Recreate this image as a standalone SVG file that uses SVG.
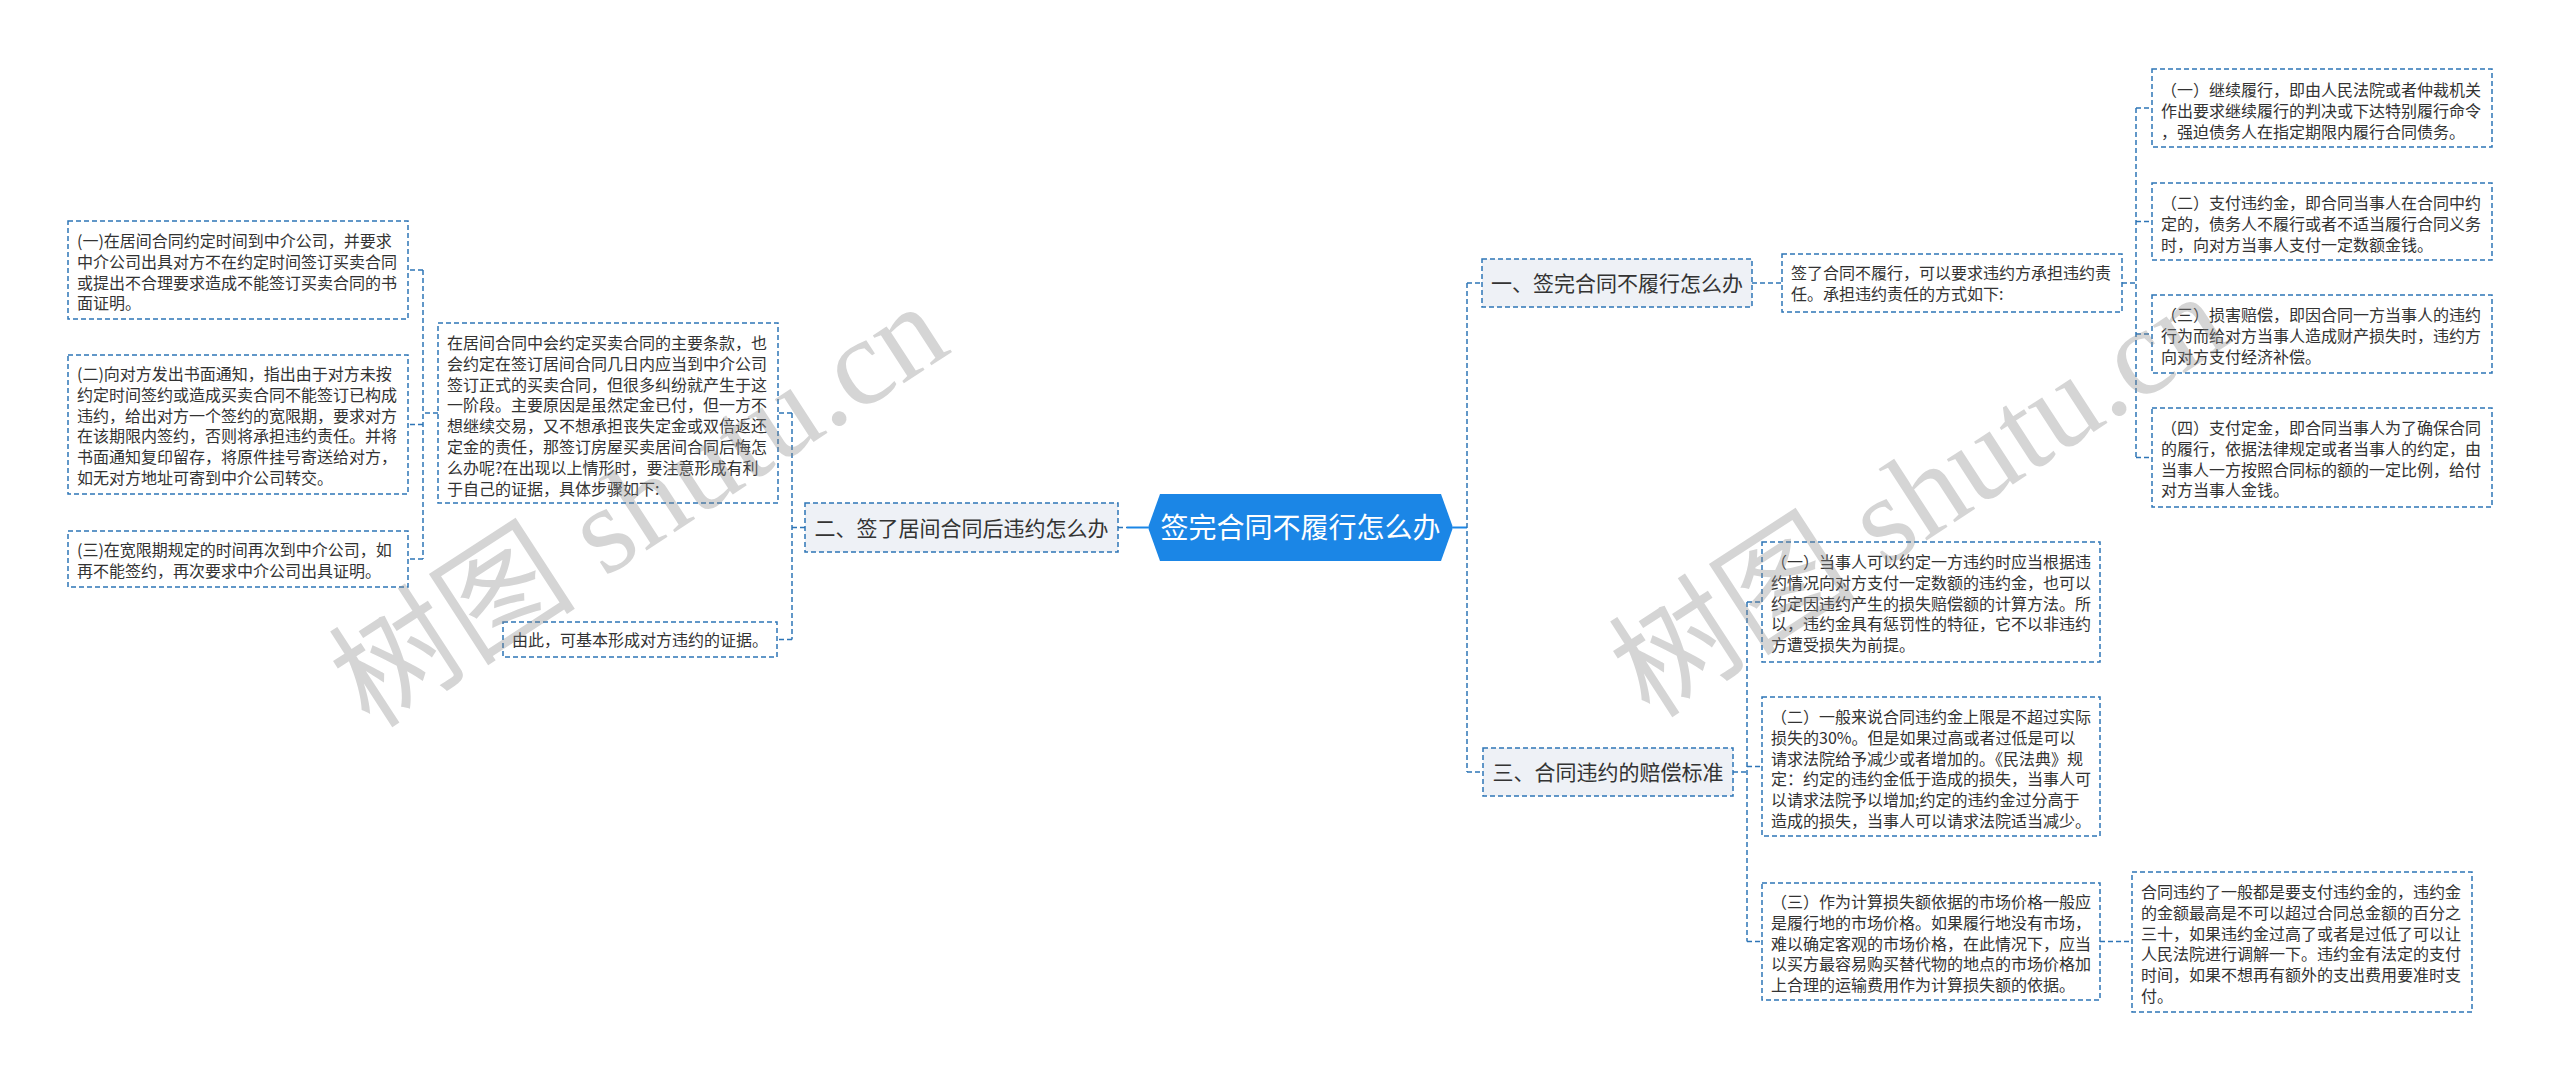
<svg xmlns="http://www.w3.org/2000/svg" width="2560" height="1081" viewBox="0 0 2560 1081">
<style>
.box{fill:#fff;stroke:#2e75b6;stroke-width:1.5;stroke-dasharray:5 3}
.br{fill:#eef1f6;stroke:#2e75b6;stroke-width:1.5;stroke-dasharray:5 3}
.conn{fill:none;stroke:#2e75b6;stroke-width:1.5;stroke-dasharray:5 3}
.solid{fill:none;stroke:#1b86e6;stroke-width:2}
.t{font-family:"Noto Sans CJK SC","Microsoft YaHei",sans-serif;font-size:16px;fill:#333}
.bt{font-family:"Noto Sans CJK SC","Microsoft YaHei",sans-serif;font-size:21px;fill:#333;text-anchor:middle}
.ct{font-family:"Noto Sans CJK SC","Microsoft YaHei",sans-serif;font-size:28px;fill:#fff;text-anchor:middle}
.wm{font-family:"Liberation Serif","Noto Sans CJK SC",serif;font-size:124px;fill:#888;opacity:0.35}
</style>
<rect width="2560" height="1081" fill="#fff"/>
<g id="connectors">
<path class="conn" d="M438 413H423M423 270V559M423 270H408M423 424.5H408M423 559H408"/>
<path class="conn" d="M805 527.5H792M792 413V639.5M792 413H778M792 639.5H777"/>
<path class="conn" d="M1118 527.5H1127"/>
<path class="solid" d="M1127 527.5H1148"/>
<path class="solid" d="M1453 527.5H1467"/>
<path class="conn" d="M1467 283V772M1467 283H1482M1467 772H1483"/>
<path class="conn" d="M1752 283H1782"/>
<path class="conn" d="M2122 283H2136M2136 108V457.5M2136 108H2152M2136 221.5H2152M2136 334H2152M2136 457.5H2152"/>
<path class="conn" d="M1733 772H1747M1747 602V941.5M1747 602H1762M1747 766.5H1762M1747 941.5H1762"/>
<path class="conn" d="M2100 941.5H2132"/>
</g>
<g id="center">
<polygon points="1148,527.5 1160,494 1441,494 1453,527.5 1441,561 1160,561" fill="#1b86e6"/>
<text class="ct" x="1300.5" y="538">签完合同不履行怎么办</text>
</g>
<g id="b2">
<rect class="br" x="805" y="503" width="313" height="49"/>
<text class="bt" x="961.5" y="535.5">二、签了居间合同后违约怎么办</text>
</g>
<g id="p">
<rect class="box" x="438" y="323" width="340" height="180"/>
<text class="t" x="447" y="349"><tspan x="447">在居间合同中会约定买卖合同的主要条款，也</tspan><tspan x="447" dy="20.8">会约定在签订居间合同几日内应当到中介公司</tspan><tspan x="447" dy="20.8">签订正式的买卖合同，但很多纠纷就产生于这</tspan><tspan x="447" dy="20.8">一阶段。主要原因是虽然定金已付，但一方不</tspan><tspan x="447" dy="20.8">想继续交易，又不想承担丧失定金或双倍返还</tspan><tspan x="447" dy="20.8">定金的责任，那签订房屋买卖居间合同后悔怎</tspan><tspan x="447" dy="20.8">么办呢?在出现以上情形时，要注意形成有利</tspan><tspan x="447" dy="20.8">于自己的证据，具体步骤如下:</tspan></text>
</g>
<g id="l1">
<rect class="box" x="68" y="221" width="340" height="98"/>
<text class="t" x="77" y="247"><tspan x="77">(一)在居间合同约定时间到中介公司，并要求</tspan><tspan x="77" dy="20.8">中介公司出具对方不在约定时间签订买卖合同</tspan><tspan x="77" dy="20.8">或提出不合理要求造成不能签订买卖合同的书</tspan><tspan x="77" dy="20.8">面证明。</tspan></text>
</g>
<g id="l2">
<rect class="box" x="68" y="355" width="340" height="139"/>
<text class="t" x="77" y="380"><tspan x="77">(二)向对方发出书面通知，指出由于对方未按</tspan><tspan x="77" dy="20.8">约定时间签约或造成买卖合同不能签订已构成</tspan><tspan x="77" dy="20.8">违约，给出对方一个签约的宽限期，要求对方</tspan><tspan x="77" dy="20.8">在该期限内签约，否则将承担违约责任。并将</tspan><tspan x="77" dy="20.8">书面通知复印留存，将原件挂号寄送给对方，</tspan><tspan x="77" dy="20.8">如无对方地址可寄到中介公司转交。</tspan></text>
</g>
<g id="l3">
<rect class="box" x="68" y="531" width="340" height="56"/>
<text class="t" x="77" y="556"><tspan x="77">(三)在宽限期规定的时间再次到中介公司，如</tspan><tspan x="77" dy="20.8">再不能签约，再次要求中介公司出具证明。</tspan></text>
</g>
<g id="y">
<rect class="box" x="503" y="622" width="274" height="35"/>
<text class="t" x="512" y="646">由此，可基本形成对方违约的证据。</text>
</g>
<g id="b1">
<rect class="br" x="1482" y="259" width="270" height="48"/>
<text class="bt" x="1617" y="291">一、签完合同不履行怎么办</text>
</g>
<g id="r0">
<rect class="box" x="1782" y="254" width="340" height="58"/>
<text class="t" x="1791" y="279"><tspan x="1791">签了合同不履行，可以要求违约方承担违约责</tspan><tspan x="1791" dy="20.8">任。承担违约责任的方式如下:</tspan></text>
</g>
<g id="r1">
<rect class="box" x="2152" y="69" width="340" height="78"/>
<text class="t" x="2161" y="96"><tspan x="2161">（一）继续履行，即由人民法院或者仲裁机关</tspan><tspan x="2161" dy="20.8">作出要求继续履行的判决或下达特别履行命令</tspan><tspan x="2161" dy="20.8">，强迫债务人在指定期限内履行合同债务。</tspan></text>
</g>
<g id="r2">
<rect class="box" x="2152" y="183" width="340" height="77"/>
<text class="t" x="2161" y="209"><tspan x="2161">（二）支付违约金，即合同当事人在合同中约</tspan><tspan x="2161" dy="20.8">定的，债务人不履行或者不适当履行合同义务</tspan><tspan x="2161" dy="20.8">时，向对方当事人支付一定数额金钱。</tspan></text>
</g>
<g id="r3">
<rect class="box" x="2152" y="295" width="340" height="78"/>
<text class="t" x="2161" y="321"><tspan x="2161">（三）损害赔偿，即因合同一方当事人的违约</tspan><tspan x="2161" dy="20.8">行为而给对方当事人造成财产损失时，违约方</tspan><tspan x="2161" dy="20.8">向对方支付经济补偿。</tspan></text>
</g>
<g id="r4">
<rect class="box" x="2152" y="408" width="340" height="99"/>
<text class="t" x="2161" y="434"><tspan x="2161">（四）支付定金，即合同当事人为了确保合同</tspan><tspan x="2161" dy="20.8">的履行，依据法律规定或者当事人的约定，由</tspan><tspan x="2161" dy="20.8">当事人一方按照合同标的额的一定比例，给付</tspan><tspan x="2161" dy="20.8">对方当事人金钱。</tspan></text>
</g>
<g id="b3">
<rect class="br" x="1483" y="748" width="250" height="48"/>
<text class="bt" x="1608" y="780">三、合同违约的赔偿标准</text>
</g>
<g id="c1">
<rect class="box" x="1762" y="542" width="338" height="120"/>
<text class="t" x="1771" y="568"><tspan x="1771">（一）当事人可以约定一方违约时应当根据违</tspan><tspan x="1771" dy="20.8">约情况向对方支付一定数额的违约金，也可以</tspan><tspan x="1771" dy="20.8">约定因违约产生的损失赔偿额的计算方法。所</tspan><tspan x="1771" dy="20.8">以，违约金具有惩罚性的特征，它不以非违约</tspan><tspan x="1771" dy="20.8">方遭受损失为前提。</tspan></text>
</g>
<g id="c2">
<rect class="box" x="1762" y="697" width="338" height="139"/>
<text class="t" x="1771" y="723"><tspan x="1771">（二）一般来说合同违约金上限是不超过实际</tspan><tspan x="1771" dy="20.8">损失的30%。但是如果过高或者过低是可以</tspan><tspan x="1771" dy="20.8">请求法院给予减少或者增加的。《民法典》规</tspan><tspan x="1771" dy="20.8">定：约定的违约金低于造成的损失，当事人可</tspan><tspan x="1771" dy="20.8">以请求法院予以增加;约定的违约金过分高于</tspan><tspan x="1771" dy="20.8">造成的损失，当事人可以请求法院适当减少。</tspan></text>
</g>
<g id="c3">
<rect class="box" x="1762" y="883" width="338" height="117"/>
<text class="t" x="1771" y="908"><tspan x="1771">（三）作为计算损失额依据的市场价格一般应</tspan><tspan x="1771" dy="20.8">是履行地的市场价格。如果履行地没有市场，</tspan><tspan x="1771" dy="20.8">难以确定客观的市场价格，在此情况下，应当</tspan><tspan x="1771" dy="20.8">以买方最容易购买替代物的地点的市场价格加</tspan><tspan x="1771" dy="20.8">上合理的运输费用作为计算损失额的依据。</tspan></text>
</g>
<g id="d1">
<rect class="box" x="2132" y="872" width="340" height="140"/>
<text class="t" x="2141" y="898"><tspan x="2141">合同违约了一般都是要支付违约金的，违约金</tspan><tspan x="2141" dy="20.8">的金额最高是不可以超过合同总金额的百分之</tspan><tspan x="2141" dy="20.8">三十，如果违约金过高了或者是过低了可以让</tspan><tspan x="2141" dy="20.8">人民法院进行调解一下。违约金有法定的支付</tspan><tspan x="2141" dy="20.8">时间，如果不想再有额外的支出费用要准时支</tspan><tspan x="2141" dy="20.8">付。</tspan></text>
</g>
<g id="watermarks">
<text class="wm" transform="translate(370,730) rotate(-33)">树图 shutu.cn</text>
<text class="wm" transform="translate(1650,720) rotate(-33)">树图 shutu.cn</text>
</g>
</svg>
